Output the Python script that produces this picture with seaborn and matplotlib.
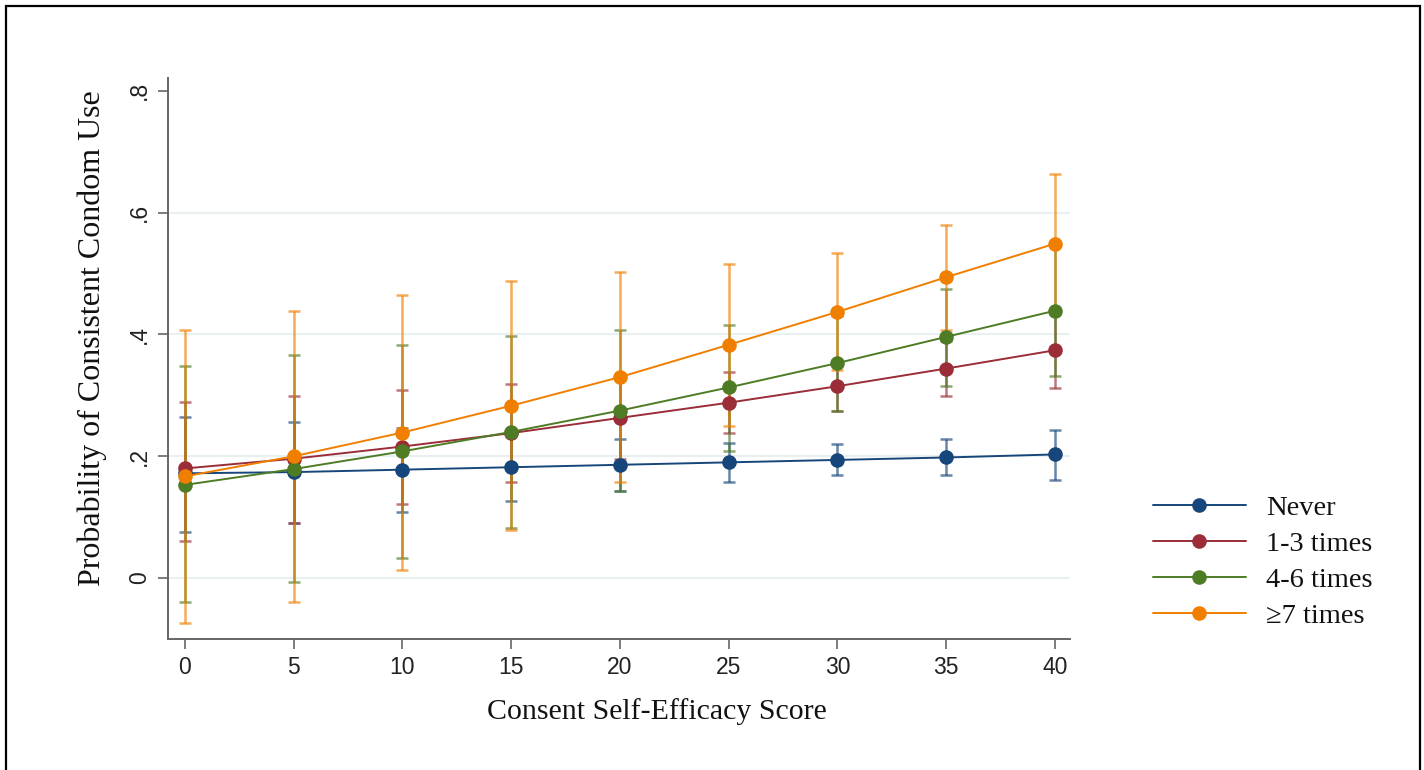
import numpy as np
import pandas as pd
import matplotlib
matplotlib.use("Agg")
import matplotlib.pyplot as plt
from matplotlib.patches import Rectangle
import seaborn as sns

# predicted probabilities with 95% CIs
score = [0, 5, 10, 15, 20, 25, 30, 35, 40]
groups = ["Never", "1-3 times", "4-6 times", "\u22657 times"]

never = [0.172, 0.174, 0.178, 0.182, 0.186, 0.190, 0.194, 0.198, 0.203]
never_lo = [0.076, 0.091, 0.109, 0.126, 0.143, 0.158, 0.169, 0.169, 0.161]
never_hi = [0.265, 0.257, 0.247, 0.238, 0.229, 0.222, 0.220, 0.229, 0.243]

one3 = [0.180, 0.196, 0.216, 0.238, 0.263, 0.288, 0.315, 0.344, 0.374]
one3_lo = [0.061, 0.090, 0.122, 0.158, 0.196, 0.238, 0.275, 0.299, 0.312]
one3_hi = [0.289, 0.299, 0.309, 0.319, 0.330, 0.339, 0.355, 0.389, 0.436]

four6 = [0.153, 0.179, 0.208, 0.240, 0.275, 0.313, 0.353, 0.396, 0.439]
four6_lo = [-0.039, -0.007, 0.033, 0.083, 0.143, 0.209, 0.275, 0.316, 0.332]
four6_hi = [0.348, 0.367, 0.383, 0.397, 0.407, 0.416, 0.431, 0.474, 0.546]

seven = [0.167, 0.200, 0.239, 0.283, 0.330, 0.383, 0.437, 0.494, 0.549]
seven_lo = [-0.074, -0.039, 0.013, 0.079, 0.158, 0.250, 0.342, 0.408, 0.434]
seven_hi = [0.407, 0.438, 0.465, 0.487, 0.502, 0.515, 0.534, 0.580, 0.664]

colors = ["#17467a", "#9b2d38", "#4d7c25", "#f07f00"]

est = [never, one3, four6, seven]
lows = [never_lo, one3_lo, four6_lo, seven_lo]
highs = [never_hi, one3_hi, four6_hi, seven_hi]

df = pd.DataFrame({
    "score": score * 4,
    "prob": np.concatenate(est),
    "lo": np.concatenate(lows),
    "hi": np.concatenate(highs),
    "group": np.repeat(groups, len(score)),
})

sns.set_style("ticks")
plt.rcParams["font.family"] = ["Liberation Serif", "DejaVu Serif"]

fig = plt.figure(figsize=(14.24, 7.7), dpi=100)
ax = fig.add_axes([168 / 1424, 1 - 639 / 770, (1070 - 168) / 1424, (639 - 78) / 770])

# grid lines
for gy in [0, 0.2, 0.4, 0.6]:
    ax.axhline(gy, color="#e8f0f2", lw=1.5, zorder=0)

# CI caps first, then the lines on top
for g, c in zip(groups, colors):
    d = df[df["group"] == g]
    ax.errorbar(d["score"], d["prob"],
                yerr=[d["prob"] - d["lo"], d["hi"] - d["prob"]],
                fmt="none", ecolor=c, alpha=0.65, elinewidth=1.8,
                capsize=4.5, capthick=1.8, zorder=2)

sns.lineplot(data=df, x="score", y="prob", hue="group", hue_order=groups,
             palette=colors, marker="o", markersize=10.5, markeredgewidth=0,
             linewidth=1.4, ax=ax, zorder=3)

ax.set_xlim(-0.78, 40.69)
ax.set_ylim(-0.1, 0.821)
ax.set_xticks(score)
ax.set_yticks([0, 0.2, 0.4, 0.6, 0.8])
ax.set_yticklabels(["0", ".2", ".4", ".6", ".8"], rotation=90, va="center")
for lab in ax.get_xticklabels() + ax.get_yticklabels():
    lab.set_family(["Liberation Sans", "DejaVu Sans"])
    lab.set_fontsize(16.5)
    lab.set_color("#222222")
ax.tick_params(axis="both", length=7, width=1.2, color="#666666", pad=5)

for s in ["top", "right"]:
    ax.spines[s].set_visible(False)
for s in ["left", "bottom"]:
    ax.spines[s].set_color("#666666")
    ax.spines[s].set_linewidth(1.4)

ax.set_xlabel("Consent Self-Efficacy Score", fontsize=21.5, va="center", color="#111111")
ax.set_ylabel("Probability of Consistent Condom Use", fontsize=23, va="center", color="#111111")
ax.xaxis.set_label_coords(0.542, -0.130)
ax.yaxis.set_label_coords(-0.084, 0.537)

handles, labels = ax.get_legend_handles_labels()
leg = ax.legend(handles, labels, loc="center left", bbox_to_anchor=(1.076, 0.137),
                frameon=False, fontsize=20.5, handlelength=3.27, handletextpad=0.7,
                labelspacing=0.36, borderpad=0)
for t in leg.get_texts():
    t.set_color("#111111")

fig.patches.append(Rectangle((6 / 1424, -0.05), (1420 - 6) / 1424, 1.05 - 6 / 770,
                             transform=fig.transFigure, fill=False,
                             edgecolor="black", lw=1.6))

fig.savefig("out.png", dpi=100)
